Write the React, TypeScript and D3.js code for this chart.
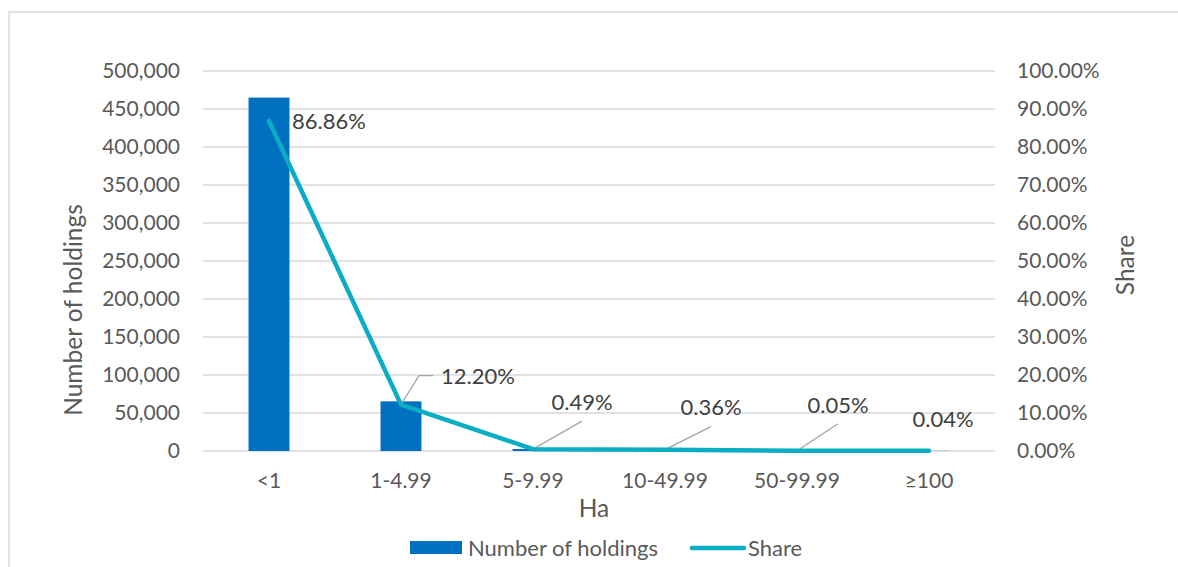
import React from "react";
import * as d3 from "d3";

// Farm size classes (hectares) and their counts / shares
const categories = ["<1", "1-4.99", "5-9.99", "10-49.99", "50-99.99", "≥100"];
const holdings = [465000, 65300, 2620, 1930, 270, 210];
const shares = [86.86, 12.2, 0.49, 0.36, 0.05, 0.04];
const leftTicks = [0, 50000, 100000, 150000, 200000, 250000, 300000, 350000, 400000, 450000, 500000];
const rightTicks = [0, 10, 20, 30, 40, 50, 60, 70, 80, 90, 100];

// Label placement for each share value: offset of label from its point
const labelOffsets: { dx: number; dy: number; anchor: string; leader: string }[] = [
  { dx: 23, dy: 0, anchor: "start", leader: "none" },
  { dx: 40, dy: -28, anchor: "start", leader: "elbow" },
  { dx: 49, dy: -47, anchor: "middle", leader: "straight" },
  { dx: 46, dy: -42, anchor: "middle", leader: "straight" },
  { dx: 41, dy: -46, anchor: "middle", leader: "straight" },
  { dx: 14, dy: -32, anchor: "middle", leader: "none" },
];

const W = 1178;
const H = 567;
const FONT = "Lato, 'Open Sans', sans-serif";
const TEXT = "#595959";
const GRID = "#D9D9D9";
const BAR = "#0070C0";
const LINE = "#0AADC3";
const LEADER = "#A6A6A6";

export default function App() {
  const plot = { left: 203, right: 995, top: 71, bottom: 451 };
  const x = d3.scaleBand<string>().domain(categories).range([plot.left, plot.right]);
  const yL = d3.scaleLinear().domain([0, 500000]).range([plot.bottom, plot.top]);
  const yR = d3.scaleLinear().domain([0, 100]).range([plot.bottom, plot.top]);
  const barW = x.bandwidth() * 0.31;
  const cx = (c: string) => (x(c) ?? 0) + x.bandwidth() / 2;

  const fmtL = d3.format(",");
  const fmtR = (v: number) => v.toFixed(2) + "%";

  const line = d3
    .line<number>()
    .x((_, i) => cx(categories[i]))
    .y((d) => yR(d));

  const fsTick = 21;
  const fsLabel = 22;
  const fsTitle = 24.5;

  return (
    <svg
      width={W}
      height={H}
      style={{ position: "absolute", left: 0, top: 0, background: "#fff" }}
      fontFamily={FONT}
    >
      {/* chart frame */}
      <rect x={9} y={12} width={W + 20} height={H + 20} fill="#fff" stroke={GRID} strokeWidth={1.5} />

      {/* gridlines */}
      {leftTicks.map((t) => (
        <line key={"g" + t} x1={plot.left} x2={plot.right} y1={yL(t)} y2={yL(t)} stroke={GRID} strokeWidth={1.3} />
      ))}

      {/* left axis labels */}
      {leftTicks.map((t) => (
        <text key={"l" + t} x={180} y={yL(t)} dy="0.35em" textAnchor="end" fill={TEXT} fontSize={fsTick}>
          {fmtL(t)}
        </text>
      ))}

      {/* right axis labels */}
      {rightTicks.map((t) => (
        <text key={"r" + t} x={1017} y={yR(t)} dy="0.35em" textAnchor="start" fill={TEXT} fontSize={fsTick}>
          {fmtR(t)}
        </text>
      ))}

      {/* bars */}
      {holdings.map((v, i) => (
        <rect
          key={"b" + i}
          x={cx(categories[i]) - barW / 2}
          y={yL(v)}
          width={barW}
          height={plot.bottom - yL(v)}
          fill={BAR}
        />
      ))}

      {/* category labels */}
      {categories.map((c) => (
        <text key={"c" + c} x={cx(c)} y={481} dy="0.35em" textAnchor="middle" fill={TEXT} fontSize={fsTick}>
          {c}
        </text>
      ))}

      {/* leader lines */}
      {shares.map((s, i) => {
        const o = labelOffsets[i];
        const px = cx(categories[i]);
        const py = yR(s);
        if (o.leader === "elbow") {
          const ly = py + o.dy - 1;
          return (
            <polyline
              key={"ld" + i}
              points={`${px},${py} ${px + 18},${ly} ${px + 32},${ly}`}
              fill="none"
              stroke={LEADER}
              strokeWidth={1.3}
            />
          );
        }
        if (o.leader === "straight") {
          return (
            <line
              key={"ld" + i}
              x1={px}
              y1={py}
              x2={px + o.dx}
              y2={py + o.dy + 19}
              stroke={LEADER}
              strokeWidth={1.3}
            />
          );
        }
        return null;
      })}

      {/* share line */}
      <path d={line(shares) ?? ""} fill="none" stroke={LINE} strokeWidth={4.5} strokeLinejoin="round" strokeLinecap="round" />

      {/* data labels */}
      {shares.map((s, i) => {
        const o = labelOffsets[i];
        return (
          <text
            key={"dl" + i}
            x={cx(categories[i]) + o.dx}
            y={yR(s) + o.dy}
            dy="0.35em"
            textAnchor={o.anchor}
            fill="#404040"
            fontSize={fsLabel}
          >
            {fmtR(s)}
          </text>
        );
      })}

      {/* axis titles */}
      <text x={594} y={508} dy="0.35em" textAnchor="middle" fill={TEXT} fontSize={fsTitle}>
        Ha
      </text>
      <text
        transform={`translate(73,310) rotate(-90)`}
        dy="0.35em"
        textAnchor="middle"
        fill={TEXT}
        fontSize={fsTitle}
      >
        Number of holdings
      </text>
      <text
        transform={`translate(1125,265) rotate(-90)`}
        dy="0.35em"
        textAnchor="middle"
        fill={TEXT}
        fontSize={fsTitle}
      >
        Share
      </text>

      {/* legend */}
      <rect x={410} y={541} width={52} height={13} fill={BAR} />
      <text x={468} y={548} dy="0.35em" fill={TEXT} fontSize={fsLabel}>
        Number of holdings
      </text>
      <line x1={692} x2={744} y1={548} y2={548} stroke={LINE} strokeWidth={4.5} strokeLinecap="round" />
      <text x={748} y={548} dy="0.35em" fill={TEXT} fontSize={fsLabel}>
        Share
      </text>
    </svg>
  );
}
